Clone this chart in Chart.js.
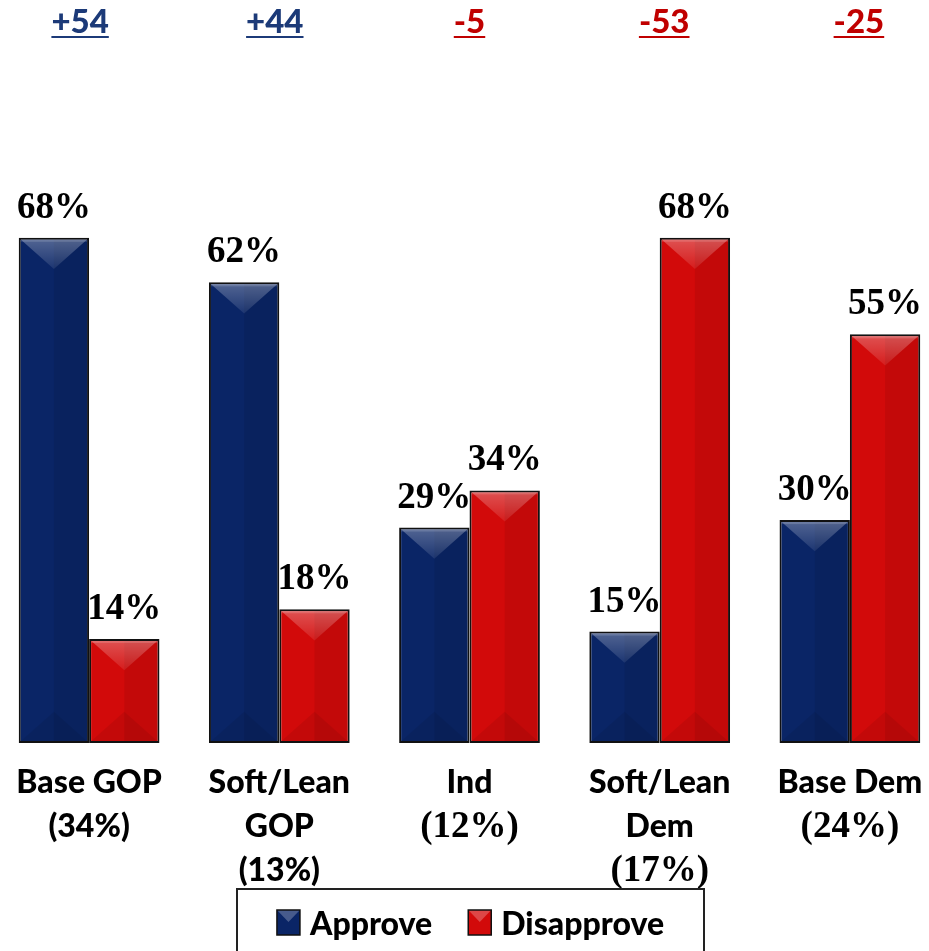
<!DOCTYPE html>
<html>
<head>
<meta charset="utf-8">
<script src="https://cdn.jsdelivr.net/npm/chart.js@4.4.1/dist/chart.umd.min.js"></script>
<style>
  html, body { margin: 0; padding: 0; overflow: hidden; background: #fff; }
  #wrap { position: absolute; left: -6px; top: 0; width: 951px; height: 951px; }
</style>
</head>
<body>
<div id="wrap"><canvas id="approval" width="951" height="951"></canvas></div>
<script>
const groups = [['Base GOP', '(34%)'], ['Soft/Lean', 'GOP', '(13%)'], ['Ind', '(12%)'], ['Soft/Lean', 'Dem', '(17%)'], ['Base Dem', '(24%)']];
const approve = [68, 62, 29, 15, 30];
const disapprove = [14, 18, 34, 68, 55];
const seriesNames = ['Approve', 'Disapprove'];
// the share line under Ind and the Dem groups is set in serif in the original
const serifShare = [false, false, true, true, true];

const NAVY = '#0a2566', RED = '#d20a0a';
const SANS = 'Lato, "Open Sans", sans-serif';
const SERIF = '"Liberation Serif", "DejaVu Serif", serif';

// bevelled look of the bars (top and bottom facets, darker right half)
const bevel = {
  id: 'bevel',
  afterDatasetsDraw(chart) {
    const {ctx} = chart;
    chart.data.datasets.forEach((ds, di) => {
      chart.getDatasetMeta(di).data.forEach(bar => {
        const l = bar.x - bar.width / 2, r = bar.x + bar.width / 2;
        const t = bar.y, b = bar.base;
        const w = r - l, h = b - t, d = Math.min(w / 2 - 4, h / 2);
        ctx.save();
        ctx.beginPath();
        ctx.rect(l + 2, t + 2, w - 4, h - 4);
        ctx.clip();
        ctx.fillStyle = 'rgba(0,0,0,0.07)';
        ctx.fillRect(bar.x, t, w / 2, h);
        const g = ctx.createLinearGradient(0, t, 0, t + d);
        g.addColorStop(0, 'rgba(255,255,255,0.30)');
        g.addColorStop(1, 'rgba(255,255,255,0.08)');
        ctx.fillStyle = g;
        ctx.beginPath();
        ctx.moveTo(l, t); ctx.lineTo(r, t); ctx.lineTo(bar.x, t + d); ctx.closePath();
        ctx.fill();
        ctx.fillStyle = 'rgba(255,255,255,0.15)';
        ctx.fillRect(l, t, w, 4);
        ctx.fillStyle = 'rgba(0,0,0,0.07)';
        ctx.beginPath();
        ctx.moveTo(l, b); ctx.lineTo(r, b); ctx.lineTo(bar.x, b - d); ctx.closePath();
        ctx.fill();
        ctx.restore();
      });
    });
  }
};

// value labels, net margins, category labels and boxed legend
const annotations = {
  id: 'annotations',
  afterDraw(chart) {
    const {ctx, chartArea, scales} = chart;
    ctx.save();

    // percent labels over each bar
    ctx.font = 'bold 37px ' + SERIF;
    ctx.fillStyle = '#000';
    ctx.textAlign = 'center';
    ctx.textBaseline = 'alphabetic';
    chart.data.datasets.forEach((ds, di) => {
      chart.getDatasetMeta(di).data.forEach((bar, i) => {
        ctx.fillText(ds.data[i] + '%', bar.x, bar.y - 20);
      });
    });

    // net approve - disapprove, underlined
    ctx.font = '900 33px ' + SANS;
    approve.forEach((a, i) => {
      const net = a - disapprove[i];
      const txt = (net > 0 ? '+' : '') + net;
      const x = scales.x.getPixelForValue(i) + (i - 2) * 4.5;
      const y = 33;
      ctx.fillStyle = net > 0 ? '#1c3a78' : '#c00000';
      ctx.fillText(txt, x, y);
      const tw = ctx.measureText(txt).width;
      ctx.fillRect(x - tw / 2, y + 3, tw, 2);
    });

    // category labels
    ctx.fillStyle = '#000';
    groups.forEach((lines, i) => {
      const x = scales.x.getPixelForValue(i);
      lines.forEach((line, k) => {
        const isShare = k === lines.length - 1;
        ctx.font = (isShare && serifShare[i]) ? 'bold 37px ' + SERIF : '900 32px ' + SANS;
        ctx.fillText(line, x, chartArea.bottom + 50 + k * 44);
      });
    });

    // legend in a frame
    const fx = 243, fw = 467, fy = 889;
    ctx.strokeStyle = '#222';
    ctx.lineWidth = 2;
    ctx.strokeRect(fx, fy, fw, 80);
    ctx.font = '900 32px ' + SANS;
    ctx.textAlign = 'left';
    const box = 23, gapText = 10, gapItem = 36;
    const widths = seriesNames.map(s => ctx.measureText(s).width);
    const total = 2 * (box + gapText) + widths[0] + widths[1] + gapItem;
    let cx = fx + fw / 2 - total / 2;
    const colors = [NAVY, RED];
    seriesNames.forEach((s, i) => {
      ctx.fillStyle = colors[i];
      ctx.fillRect(cx, 910, box, 25);
      ctx.fillStyle = 'rgba(255,255,255,0.25)';
      ctx.beginPath();
      ctx.moveTo(cx, 910); ctx.lineTo(cx + box, 910); ctx.lineTo(cx + box / 2, 922); ctx.closePath();
      ctx.fill();
      ctx.strokeStyle = '#111';
      ctx.lineWidth = 1.5;
      ctx.strokeRect(cx, 910, box, 25);
      ctx.fillStyle = '#000';
      ctx.fillText(s, cx + box + gapText, 935);
      cx += box + gapText + widths[i] + gapItem;
    });
    ctx.restore();
  }
};

new Chart(document.getElementById('approval'), {
  type: 'bar',
  data: {
    labels: groups.map(g => g.join(' ')),
    datasets: [
      { label: seriesNames[0], data: approve, backgroundColor: NAVY },
      { label: seriesNames[1], data: disapprove, backgroundColor: RED }
    ].map(ds => Object.assign(ds, {
      borderColor: '#111',
      borderWidth: 2,
      borderSkipped: false,
      categoryPercentage: 0.74,
      barPercentage: 1.0
    }))
  },
  options: {
    responsive: false,
    animation: false,
    layout: { padding: { top: 0, bottom: 62, left: 0, right: 0 } },
    plugins: {
      legend: { display: false },
      tooltip: { enabled: false }
    },
    scales: {
      x: {
        grid: { display: false },
        border: { display: false },
        ticks: { display: false },
        afterFit(scale) { scale.height = 146; }
      },
      y: { display: false, min: 0, max: 100 }
    }
  },
  plugins: [bevel, annotations]
});
</script>
</body>
</html>
